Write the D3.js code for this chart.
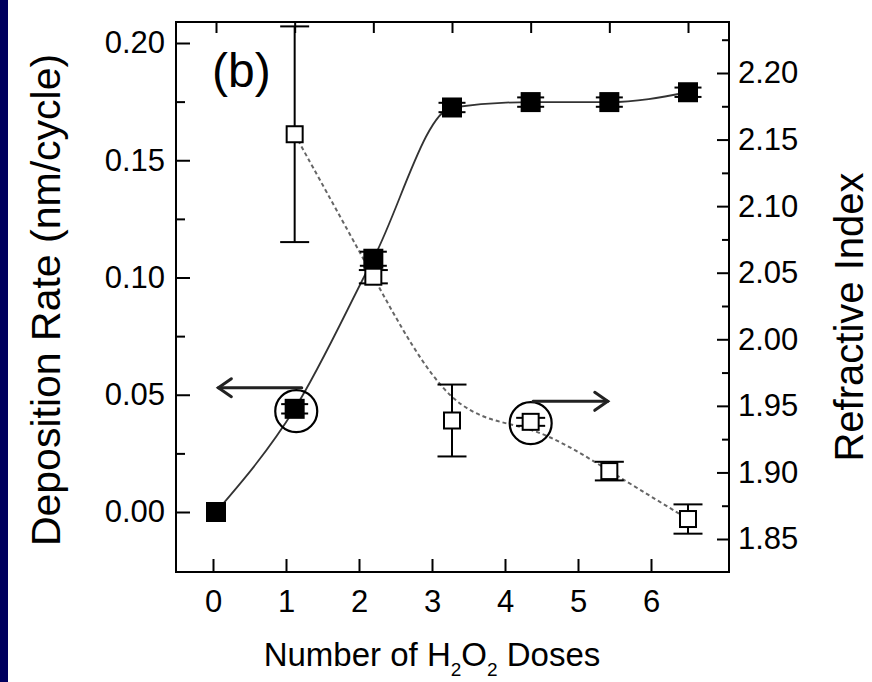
<!DOCTYPE html>
<html lang="en">
<head>
    <meta charset="UTF-8">
    <title>Deposition rate and refractive index</title>
    <script src="https://cdn.jsdelivr.net/npm/d3@7/dist/d3.min.js"></script>
    <style>
        body { margin: 0; background: #fff; }
        text { font-family: "Liberation Sans", Arial, sans-serif; fill: #000; }
    </style>
</head>
<body>
    <div id="chart"></div>
    <script>
        // filled squares, left axis
        const doses = [0, 1, 2, 3, 4, 5, 6];
        const depRate = [0.000, 0.044, 0.108, 0.1725, 0.1748, 0.1748, 0.179];
        const depErr = [0.000, 0.002, 0.003, 0.002, 0.002, 0.002, 0.002];

        // open squares, right axis
        const refDoses = [1, 2, 3, 4, 5, 6];
        const refIndex = [2.154, 2.047, 1.939, 1.938, 1.901, 1.865];
        const refErr = [0.081, 0.005, 0.027, 0.003, 0.007, 0.011];

        const xTicks = [0, 1, 2, 3, 4, 5, 6];
        const leftTicks = [0, 0.05, 0.10, 0.15, 0.20];
        const leftMinor = [0.025, 0.075, 0.125, 0.175];
        const rightTicks = [1.85, 1.90, 1.95, 2.00, 2.05, 2.10, 2.15, 2.20];
        const rightMinor = [1.875, 1.925, 1.975, 2.025, 2.075, 2.125, 2.175, 2.225];

        const width = 872, height = 682;
        const frame = {left: 176, right: 729, top: 22, bottom: 572};

        const svg = d3.select('#chart').append('svg')
            .attr('width', width)
            .attr('height', height);

        // dark strip on the left edge
        svg.append('rect')
            .attr('x', 0).attr('y', 0)
            .attr('width', 8).attr('height', height)
            .attr('fill', '#00005f');

        // data positions and the printed bottom labels do not line up in the original
        const xData = d3.scaleLinear().domain([0, 6]).range([216, 688]);
        const xLabel = d3.scaleLinear().domain([0, 6]).range([213, 651]);
        const yLeft = d3.scaleLinear().domain([0, 0.20]).range([512, 43]);
        const yRight = d3.scaleLinear().domain([1.85, 2.20]).range([539, 73]);

        // curves
        const depLine = d3.line()
            .x((d, i) => xData(doses[i]))
            .y(d => yLeft(d))
            .curve(d3.curveMonotoneX);
        svg.append('path')
            .attr('d', depLine(depRate))
            .attr('fill', 'none')
            .attr('stroke', '#333')
            .attr('stroke-width', 1.8);

        const refLine = d3.line()
            .x((d, i) => xData(refDoses[i]))
            .y(d => yRight(d))
            .curve(d3.curveBasis);
        svg.append('path')
            .attr('d', refLine(refIndex))
            .attr('fill', 'none')
            .attr('stroke', '#666')
            .attr('stroke-width', 2)
            .attr('stroke-dasharray', '4,3');

        // error bars + markers
        function drawSeries(xs, ys, errs, yScale, filled, size, cap) {
            const g = svg.append('g');
            xs.forEach((x, i) => {
                const cx = xData(x);
                const top = yScale(ys[i] + errs[i]);
                const bot = yScale(ys[i] - errs[i]);
                if (errs[i] > 0) {
                    g.append('line').attr('x1', cx).attr('x2', cx).attr('y1', top).attr('y2', bot)
                        .attr('stroke', '#000').attr('stroke-width', 2);
                    [top, bot].forEach(y => {
                        g.append('line').attr('x1', cx - cap / 2).attr('x2', cx + cap / 2)
                            .attr('y1', y).attr('y2', y)
                            .attr('stroke', '#000').attr('stroke-width', 2);
                    });
                }
                g.append('rect')
                    .attr('x', cx - size / 2)
                    .attr('y', yScale(ys[i]) - size / 2)
                    .attr('width', size).attr('height', size)
                    .attr('fill', filled ? '#000' : '#fff')
                    .attr('stroke', '#000')
                    .attr('stroke-width', 2);
            });
        }
        drawSeries(refDoses, refIndex, refErr, yRight, false, 16, 29);
        drawSeries(doses, depRate, depErr, yLeft, true, 18, 27);

        // circled points and arrows
        svg.append('circle')
            .attr('cx', xData(1.02)).attr('cy', yLeft(0.043))
            .attr('r', 21)
            .attr('fill', 'none').attr('stroke', '#000').attr('stroke-width', 2.2);
        svg.append('circle')
            .attr('cx', xData(4)).attr('cy', yRight(1.937))
            .attr('r', 21)
            .attr('fill', 'none').attr('stroke', '#000').attr('stroke-width', 2.2);

        function arrow(x1, x2, y) {
            const dir = x2 < x1 ? 1 : -1;
            const g = svg.append('g')
                .attr('fill', 'none').attr('stroke', '#222')
                .attr('stroke-width', 3).attr('stroke-linecap', 'round');
            g.append('line').attr('x1', x1).attr('x2', x2).attr('y1', y).attr('y2', y);
            g.append('polyline')
                .attr('points', [[x2 + dir * 13, y - 9], [x2, y], [x2 + dir * 13, y + 9]].join(' '))
                .attr('stroke-linejoin', 'miter');
        }
        arrow(xData(1.09), xData(0.03), yLeft(0.053));
        arrow(xData(4.03), xData(4.98), yRight(1.9534));

        // frame
        svg.append('rect')
            .attr('x', frame.left).attr('y', frame.top)
            .attr('width', frame.right - frame.left)
            .attr('height', frame.bottom - frame.top)
            .attr('fill', 'none').attr('stroke', '#000').attr('stroke-width', 2);

        const fmt = d3.format('.2f');

        function styleAxis(g, size) {
            g.select('.domain').remove();
            g.selectAll('.tick line').attr('stroke', '#000').attr('stroke-width', 2);
            g.selectAll('.tick text').style('font-size', size + 'px')
                .style('font-family', '"Liberation Sans", Arial, sans-serif');
        }

        svg.append('g')
            .attr('transform', 'translate(' + frame.left + ',0)')
            .call(d3.axisLeft(yLeft).tickValues(leftTicks).tickFormat(fmt).tickSize(-14).tickPadding(11))
            .call(g => styleAxis(g, 31));
        svg.append('g')
            .attr('transform', 'translate(' + frame.left + ',0)')
            .call(d3.axisLeft(yLeft).tickValues(leftMinor).tickFormat('').tickSize(-9))
            .call(g => styleAxis(g, 31));

        svg.append('g')
            .attr('transform', 'translate(' + frame.right + ',0)')
            .call(d3.axisRight(yRight).tickValues(rightTicks).tickFormat(fmt).tickSize(-12).tickPadding(9))
            .call(g => styleAxis(g, 31));
        svg.append('g')
            .attr('transform', 'translate(' + frame.right + ',0)')
            .call(d3.axisRight(yRight).tickValues(rightMinor).tickFormat('').tickSize(-7))
            .call(g => styleAxis(g, 31));

        svg.append('g')
            .attr('transform', 'translate(0,' + frame.bottom + ')')
            .call(d3.axisBottom(xLabel).tickValues(xTicks).tickFormat(d3.format('d')).tickSize(-13).tickPadding(18))
            .call(g => styleAxis(g, 31));
        svg.append('g')
            .attr('transform', 'translate(0,' + frame.top + ')')
            .call(d3.axisTop(xData).tickValues(xTicks).tickFormat('').tickSize(-11))
            .call(g => styleAxis(g, 31));

        // titles
        svg.append('text')
            .attr('transform', 'translate(60,300) rotate(-90)')
            .attr('text-anchor', 'middle')
            .style('font-size', '41px')
            .text('Deposition Rate (nm/cycle)');

        svg.append('text')
            .attr('transform', 'translate(863,317) rotate(-90)')
            .attr('text-anchor', 'middle')
            .style('font-size', '40px')
            .text('Refractive Index');

        const xt = svg.append('text')
            .attr('x', 432).attr('y', 666)
            .attr('text-anchor', 'middle')
            .style('font-size', '33px');
        xt.append('tspan').text('Number of H');
        xt.append('tspan').attr('dy', 10).style('font-size', '19px').text('2');
        xt.append('tspan').attr('dy', -10).text('O');
        xt.append('tspan').attr('dy', 10).style('font-size', '19px').text('2');
        xt.append('tspan').attr('dy', -10).text(' Doses');

        svg.append('text')
            .attr('x', 212).attr('y', 87)
            .style('font-size', '48px')
            .text('(b)');
    </script>
</body>
</html>
